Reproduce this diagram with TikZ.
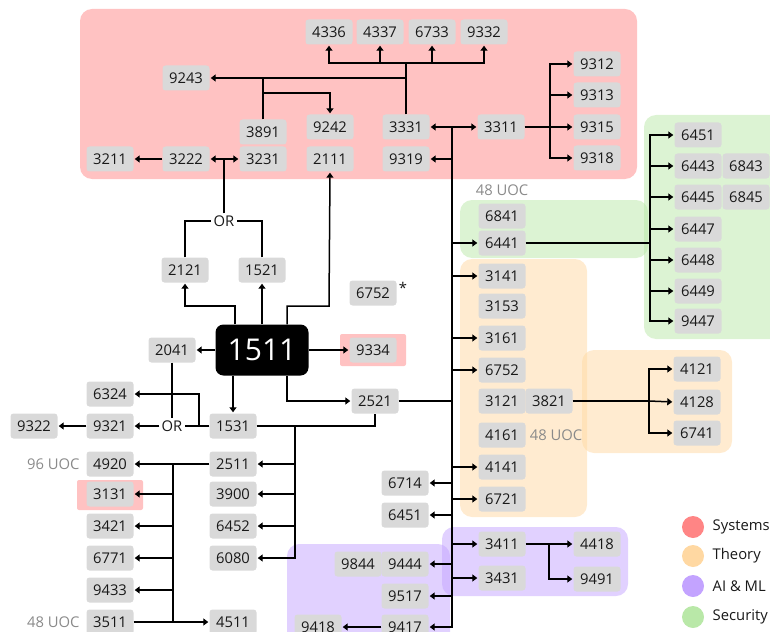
\documentclass[tikz,border=0pt]{standalone}
\usepackage{fontspec}
\setmainfont{Open Sans}
\usetikzlibrary{arrows.meta}

\definecolor{boxgray}{HTML}{D9D9D9}
\definecolor{sysred}{HTML}{FF8585}
\definecolor{thyorange}{HTML}{FFD8A2}
\definecolor{aipurple}{HTML}{C3A3FF}
\definecolor{secgreen}{HTML}{B9E8A8}
\definecolor{uocgray}{HTML}{8A8A8A}
\newcommand{\coursefont}{\fontsize{14.8}{17}\selectfont}

\begin{document}
\begin{tikzpicture}[x=1pt, y=-1pt,
  course/.style={fill=boxgray, rounded corners=3pt, minimum width=47pt,
    minimum height=25pt, inner sep=0pt, font=\coursefont, text=black!90},
  core/.style={fill=black, text=white, rounded corners=8pt, minimum width=93pt,
    minimum height=51pt, inner sep=0pt, font=\fontsize{30}{34}\selectfont},
  area/.style={rounded corners=12pt, fill opacity=0.5},
  link/.style={line width=1.5pt},
  arr/.style={link, -{Triangle[length=5pt,width=7pt]}, shorten >=1pt},
  uoc/.style={text=uocgray, font=\coursefont},
  ornode/.style={inner sep=2pt, font=\coursefont, text=black!90},
  legdot/.style={circle, minimum size=22pt, inner sep=0pt},
  legtext/.style={anchor=west, inner sep=0.5pt, font=\coursefont, text=black!90}
]
  \useasboundingbox (0,0) rectangle (770,631);

  % Areas
  \fill[area, sysred]    (80,9)    rectangle (637,179);
  \fill[area, secgreen]  (460,200) rectangle (648,258);
  \fill[area, secgreen]  (644,115) rectangle (790,339);
  \fill[area, thyorange] (460,259) rectangle (587,517);
  \fill[area, thyorange] (582,350) rectangle (732,453);
  \fill[area, aipurple]  (287,544) rectangle (450,660);
  \fill[area, aipurple]  (442,527) rectangle (628,596);
  \fill[sysred, fill opacity=0.5, rounded corners=2pt] (340,334) rectangle (406,366);
  \fill[sysred, fill opacity=0.5, rounded corners=2pt] (77,480) rectangle (143,510);

  % Systems courses
  \node[course] (c4336) at (329,32) {4336};
  \node[course] (c4337) at (380,32) {4337};
  \node[course] (c6733) at (432,32) {6733};
  \node[course] (c9332) at (484,32) {9332};
  \node[course] (c9243) at (186,78) {9243};
  \node[course] (c3891) at (263,132) {3891};
  \node[course] (c3231) at (263,159) {3231};
  \node[course] (c3222) at (186,159) {3222};
  \node[course] (c3211) at (110,159) {3211};
  \node[course] (c9242) at (330,127) {9242};
  \node[course] (c2111) at (330,159) {2111};
  \node[course] (c3331) at (406,127) {3331};
  \node[course] (c9319) at (406,159) {9319};
  \node[course] (c3311) at (501,127) {3311};
  \node[course] (c9312) at (597,64) {9312};
  \node[course] (c9313) at (597,95) {9313};
  \node[course] (c9315) at (597,127) {9315};
  \node[course] (c9318) at (597,158) {9318};

  % Core and first year
  \node[ornode] (orTop) at (224,221) {OR};
  \node[course] (c2121) at (185,270) {2121};
  \node[course] (c1521) at (262,270) {1521};
  \node[course] (c6752a) at (373,293) {6752};
  \node[ornode] (ast) at (403,288) {*};
  \node[core] (c1511) at (262,350) {1511};
  \node[course] (c9334) at (373,350) {9334};
  \node[course] (c2041) at (172,350) {2041};
  \node[course] (c1531) at (233,426) {1531};
  \node[course] (c2521) at (375,401) {2521};
  \node[course] (c6324) at (110,394) {6324};
  \node[course] (c9321) at (110,426) {9321};
  \node[course] (c9322) at (34,426) {9322};
  \node[ornode] (orLeft) at (172,426) {OR};

  % Left columns
  \node[course] (c2511) at (233,464) {2511};
  \node[course] (c3900) at (233,494) {3900};
  \node[course] (c6452) at (233,526) {6452};
  \node[course] (c6080) at (233,558) {6080};
  \node[course] (c4511) at (233,622) {4511};
  \node[course] (c4920) at (110,464) {4920};
  \node[course] (c3131) at (110,494) {3131};
  \node[course] (c3421) at (110,526) {3421};
  \node[course] (c6771) at (110,558) {6771};
  \node[course] (c9433) at (110,590) {9433};
  \node[course] (c3511) at (110,622) {3511};
  \node[uoc, anchor=east] (uoc96) at (83,464) {96 UOC};
  \node[uoc, anchor=east] (uoc48a) at (83,622) {48 UOC};

  % Security courses
  \node[uoc] (uoc48b) at (502,190) {48 UOC};
  \node[course] (c6841) at (502,216) {6841};
  \node[course] (c6441) at (502,243) {6441};
  \node[course] (c6451a) at (698,135) {6451};
  \node[course] (c6443) at (698,166) {6443};
  \node[course] (c6843) at (746,166) {6843};
  \node[course] (c6445) at (698,197) {6445};
  \node[course] (c6845) at (746,197) {6845};
  \node[course] (c6447) at (698,229) {6447};
  \node[course] (c6448) at (698,260) {6448};
  \node[course] (c6449) at (698,291) {6449};
  \node[course] (c9447) at (698,321) {9447};

  % Theory courses
  \node[course] (c3141) at (502,276) {3141};
  \node[course] (c3153) at (502,306) {3153};
  \node[course] (c3161) at (502,338) {3161};
  \node[course] (c6752b) at (502,370) {6752};
  \node[course] (c3121) at (502,401) {3121};
  \node[course] (c3821) at (549,401) {3821};
  \node[course] (c4161) at (502,435) {4161};
  \node[uoc] (uoc48c) at (556,435) {48 UOC};
  \node[course] (c4141) at (502,467) {4141};
  \node[course] (c6721) at (502,499) {6721};
  \node[course] (c4121) at (697,369) {4121};
  \node[course] (c4128) at (697,402) {4128};
  \node[course] (c6741) at (697,433) {6741};
  \node[course] (c6714) at (405,483) {6714};
  \node[course] (c6451b) at (405,515) {6451};

  % AI & ML courses
  \node[course] (c3411) at (502,544) {3411};
  \node[course] (c3431) at (502,578) {3431};
  \node[course] (c4418) at (597,544) {4418};
  \node[course] (c9491) at (597,579) {9491};
  \node[course] (c9844) at (358,564) {9844};
  \node[course] (c9444) at (405,564) {9444};
  \node[course] (c9517) at (405,596) {9517};
  \node[course] (c9417) at (405,627) {9417};
  \node[course] (c9418) at (318,627) {9418};

  % Legend
  \node[legdot, fill=sysred] (lsys) at (693,527) {};
  \node[legdot, fill=thyorange] (lthy) at (693,556) {};
  \node[legdot, fill=aipurple] (lai) at (693,586) {};
  \node[legdot, fill=secgreen] (lsec) at (693,617) {};
  \node[legtext] at (712,527) {Systems};
  \node[legtext] at (712,556) {Theory};
  \node[legtext] at (712,586) {AI \& ML};
  \node[legtext] at (712,617) {Security};

  % Junctions
  \coordinate (topbar) at (406,63);
  \coordinate (midbar) at (406,78);
  \coordinate (lowbar) at (263,93);
  \coordinate (orjoin) at (224,159);
  \coordinate (j3311) at (550,127);
  \coordinate (bus) at (452,127);
  \coordinate (j6441) at (650,243);
  \coordinate (j3821) at (649,401);
  \coordinate (j3411) at (549,544);
  \coordinate (j1531) at (199,426);
  \coordinate (bus2) at (295,426);
  \coordinate (bus3) at (173,464);
  \coordinate (k2121) at (185,306);
  \coordinate (k2111) at (329,306);

  % Systems links
  \draw[link] (c3331.north) -- (topbar);
  \draw[arr] (topbar) -| (c4336.south);
  \draw[arr] (topbar) -| (c9332.south);
  \draw[arr] (c4337.south |- topbar) -- (c4337.south);
  \draw[arr] (c6733.south |- topbar) -- (c6733.south);
  \draw[arr] (midbar) -- (c9243.east);
  \draw[link] (c3891.north) -- (c3891.north |- midbar);
  \draw[arr] (lowbar) -| (c9242.north);
  \draw[arr] (c3222.west) -- (c3211.east);
  \draw[link] (orTop.north) -- (orjoin);
  \draw[arr] (orjoin) -- (c3222.east);
  \draw[arr] (orjoin) -- (c3231.west);
  \draw[link] (c2121.north) |- (orTop.west);
  \draw[link] (c1521.north) |- (orTop.east);
  \draw[link] (c3311.east) -- (j3311);
  \draw[arr] (j3311) |- (c9312.west);
  \draw[arr] (j3311 |- c9313) -- (c9313.west);
  \draw[arr] (j3311) -- (c9315.west);
  \draw[arr] (j3311) |- (c9318.west);

  % Links out of 1511
  \draw[arr] ([xshift=-27pt]c1511.north) |- (k2121) -- (c2121.south);
  \draw[arr] (c1511.north) -- (c1521.south);
  \draw[arr] ([xshift=25pt]c1511.north) |- (k2111) -- (c2111.south);
  \draw[arr] (c1511.east) -- (c9334.west);
  \draw[arr] (c1511.west) -- (c2041.east);
  \draw[arr] (c1511.south -| c1531.north) -- (c1531.north);
  \draw[arr] ([xshift=25pt]c1511.south) |- (c2521.west);

  % Left links
  \draw[link] (c2041.south) -- (orLeft.north);
  \draw[link] (c1531.west) -- (j1531);
  \draw[arr] (j1531) |- (c6324.east);
  \draw[link] (j1531) -- (orLeft.east);
  \draw[arr] (orLeft.west) -- (c9321.east);
  \draw[arr] (c9321.west) -- (c9322.east);
  \draw[link] (c1531.east) -| (c2521.south);
  \draw[arr] (bus2) |- (c6080.east);
  \draw[arr] (bus2 |- c2511) -- (c2511.east);
  \draw[arr] (bus2 |- c3900) -- (c3900.east);
  \draw[arr] (bus2 |- c6452) -- (c6452.east);
  \draw[arr] (c2511.west) -- (c4920.east);
  \draw[link] (bus3) -- (bus3 |- c3511);
  \draw[arr] (bus3 |- c3131) -- (c3131.east);
  \draw[arr] (bus3 |- c3421) -- (c3421.east);
  \draw[arr] (bus3 |- c6771) -- (c6771.east);
  \draw[arr] (bus3 |- c9433) -- (c9433.east);
  \draw[arr] (c3511.east) -- (c4511.west);

  % Main bus from 2521
  \draw[link] (c2521.east) -- (bus |- c2521.east);
  \draw[arr] (bus) |- (c9417.east);
  \draw[arr] (bus) -- (c3331.east);
  \draw[arr] (bus) -- (c3311.west);
  \draw[arr] (bus |- c9319) -- (c9319.east);
  \draw[arr] (bus |- c6441) -- (c6441.west);
  \draw[arr] (bus |- c3141) -- (c3141.west);
  \draw[arr] (bus |- c3161) -- (c3161.west);
  \draw[arr] (bus |- c6752b) -- (c6752b.west);
  \draw[arr] (bus |- c4141) -- (c4141.west);
  \draw[arr] (bus |- c6721) -- (c6721.west);
  \draw[arr] (bus |- c6714) -- (c6714.east);
  \draw[arr] (bus |- c6451b) -- (c6451b.east);
  \draw[arr] (bus |- c3411) -- (c3411.west);
  \draw[arr] (bus |- c3431) -- (c3431.west);
  \draw[arr] (bus |- c9444) -- (c9444.east);
  \draw[arr] (bus |- c9517) -- (c9517.east);
  \draw[arr] (c9417.west) -- (c9418.east);

  % Security links
  \draw[link] (c6441.east) -- (j6441);
  \draw[arr] (j6441) |- (c6451a.west);
  \draw[arr] (j6441) |- (c9447.west);
  \draw[arr] (j6441 |- c6443) -- (c6443.west);
  \draw[arr] (j6441 |- c6445) -- (c6445.west);
  \draw[arr] (j6441 |- c6447) -- (c6447.west);
  \draw[arr] (j6441 |- c6448) -- (c6448.west);
  \draw[arr] (j6441 |- c6449) -- (c6449.west);

  % Theory links
  \draw[link] (c3821.east) -- (j3821);
  \draw[arr] (j3821) |- (c4121.west);
  \draw[arr] (j3821) -- (c4128.west);
  \draw[arr] (j3821) |- (c6741.west);

  % AI links
  \draw[link] (c3411.east) -- (j3411);
  \draw[arr] (j3411) -- (c4418.west);
  \draw[arr] (j3411) |- (c9491.west);
\end{tikzpicture}
\end{document}
